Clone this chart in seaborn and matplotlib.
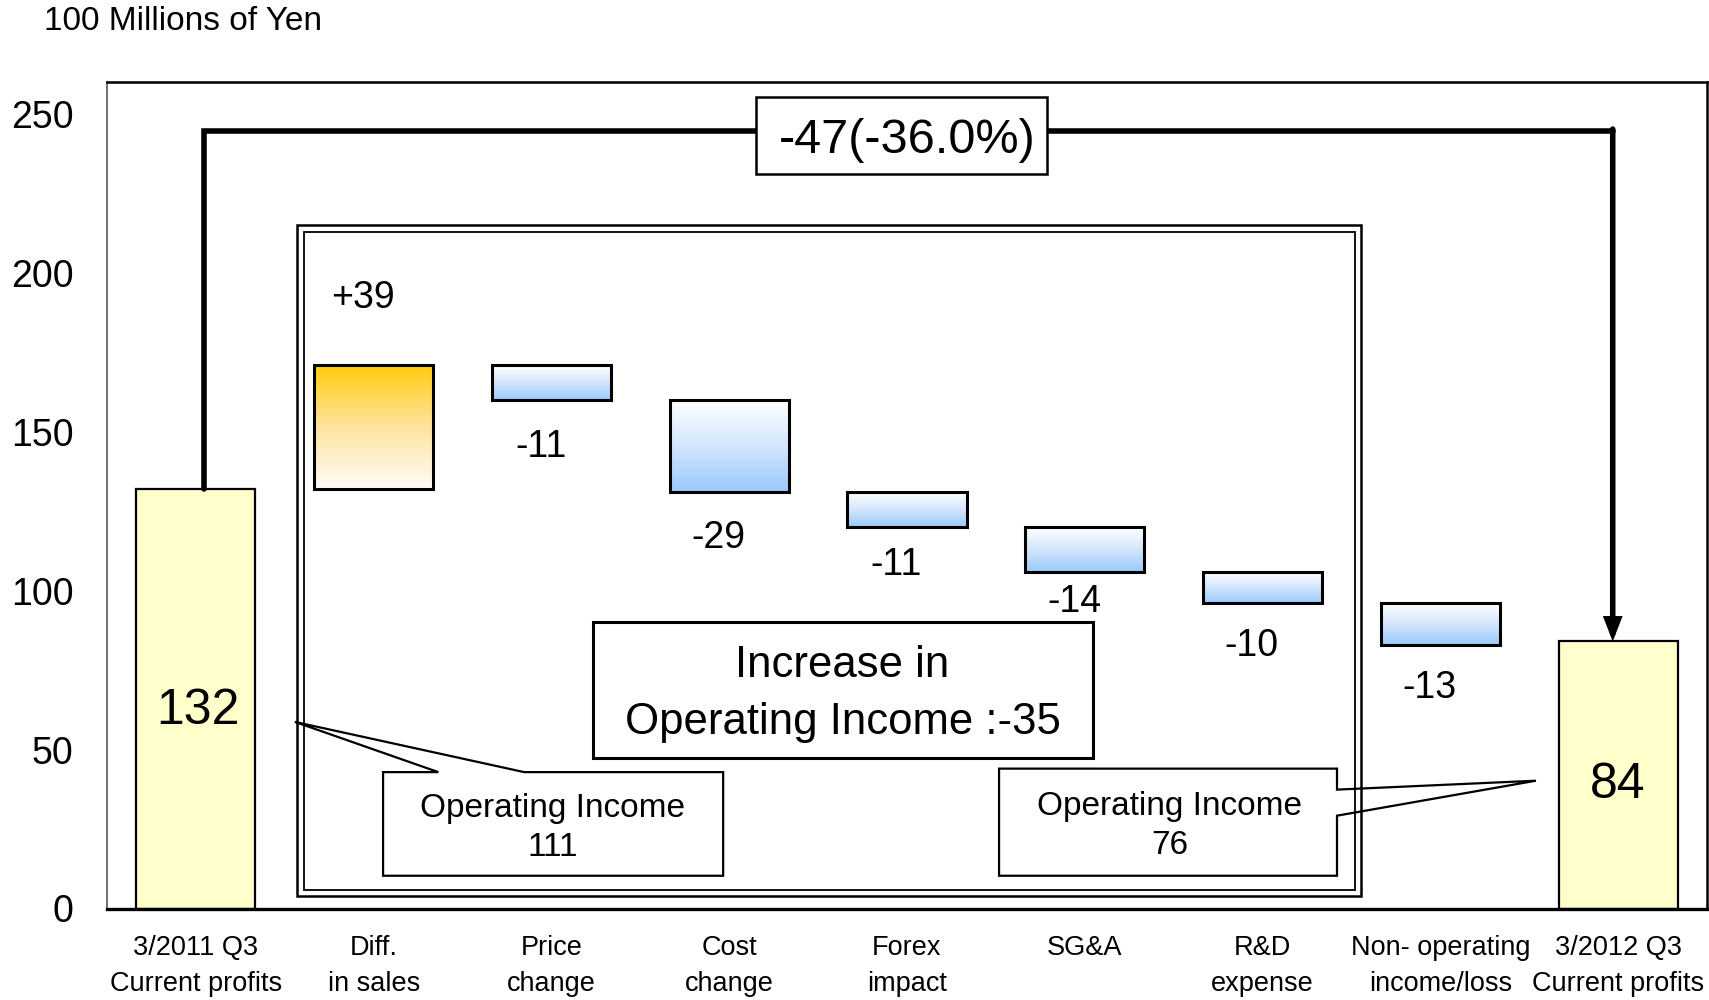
import numpy as np
import pandas as pd
import matplotlib
matplotlib.use("Agg")
import matplotlib.pyplot as plt
from matplotlib.colors import LinearSegmentedColormap
from matplotlib.patches import Rectangle, Polygon
import seaborn as sns

# ---- data -------------------------------------------------------------
categories = [
    "3/2011 Q3\nCurrent profits", "Diff.\nin sales", "Price\nchange",
    "Cost\nchange", "Forex\nimpact", "SG&A", "R&D\nexpense",
    "Non- operating\nincome/loss", "3/2012 Q3\nCurrent profits",
]
start_profit = 132
end_profit = 84
deltas = [39, -11, -29, -11, -14, -10, -13]
yticks = [0, 50, 100, 150, 200, 250]
op_income_before = 111
op_income_after = 76
unit_label = "100 Millions of Yen"
change_label = "-47(-36.0%)"
op_change_label = "Increase in\nOperating Income :-35"

# ---- waterfall geometry from the data ---------------------------------
levels_after = start_profit + np.cumsum(deltas)
levels_before = np.concatenate([[start_profit], levels_after[:-1]])
heights = [start_profit] + [abs(d) for d in deltas] + [end_profit]
bottoms = [0] + list(np.minimum(levels_before, levels_after)) + [0]
kinds = ["total"] + ["up" if d > 0 else "down" for d in deltas] + ["total"]
df = pd.DataFrame({"category": categories, "height": heights,
                   "bottom": bottoms, "kind": kinds})

# ---- style ------------------------------------------------------------
sns.set_theme(style="white")
plt.rcParams["font.family"] = ["Liberation Sans", "DejaVu Sans"]
plt.rcParams.update({"text.color": "black", "axes.labelcolor": "black",
                     "xtick.color": "black", "ytick.color": "black"})

fig = plt.figure(figsize=(17.09, 10.0), dpi=100)
ax = fig.add_axes([0.0626, 0.0915, 0.9362, 0.8265])

sns.barplot(data=df, x="category", y="height", order=categories,
            bottom=df["bottom"].to_numpy(dtype=float), width=0.67,
            color="white", saturation=1, edgecolor="black", linewidth=2.2,
            errorbar=None, ax=ax, zorder=2)

gold = LinearSegmentedColormap.from_list(
    "gold", [(0.0, "#FFFCF6"), (0.5, "#FFE3A0"), (1.0, "#FFCC0E")])
blue = LinearSegmentedColormap.from_list(
    "blue", [(0.0, "#99C9FB"), (0.5, "#D4E6FD"), (1.0, "#FFFFFF")])
grad = np.linspace(0, 1, 256).reshape(-1, 1)

for patch, kind in zip(ax.patches, df["kind"]):
    if kind == "total":
        patch.set_facecolor("#FFFFCC")
        patch.set_linewidth(1.6)
        continue
    patch.set_facecolor("none")
    x0, y0 = patch.get_x(), patch.get_y()
    x1, y1 = x0 + patch.get_width(), y0 + patch.get_height()
    im = ax.imshow(grad, cmap=gold if kind == "up" else blue, origin="lower",
                   extent=(x0, x1, y0, y1), aspect="auto", zorder=1.9,
                   interpolation="bicubic")
    im.set_clip_path(patch)

ax.set_xlim(-0.5, len(categories) - 0.5)
ax.set_ylim(0, 260)
ax.set_aspect("auto")
ax.set_xlabel("")
ax.set_ylabel("")
ax.set_yticks(yticks)
ax.set_xticks(range(len(categories)))
ax.set_xticklabels(categories, fontsize=19.5, linespacing=1.5)
ax.set_xticks(np.arange(0.5, len(categories) - 1, 1.0), minor=True)
ax.tick_params(axis="x", which="major", length=0, pad=19, labelcolor="black")
ax.tick_params(axis="x", which="minor", direction="in", length=6.5,
               width=1.0, color="#808080")
ax.tick_params(axis="y", direction="in", length=8.5, width=1.0,
               color="#808080", labelsize=27, pad=24, labelcolor="black")

for side in ["top", "right", "bottom"]:
    ax.spines[side].set_visible(True)
    ax.spines[side].set_color("black")
ax.spines["left"].set_color("#707070")
ax.spines["left"].set_linewidth(1.4)
ax.spines["bottom"].set_linewidth(2.4)
ax.spines["top"].set_linewidth(1.8)
ax.spines["right"].set_linewidth(1.8)

fig.text(0.026, 0.978, unit_label, fontsize=24, ha="left", va="center")

# ---- double frame around the operating items --------------------------
ax.add_patch(Rectangle((0.570, 3.8), 5.984, 211.2, fill=False,
                       lw=1.8, ec="black", zorder=1.2))
ax.add_patch(Rectangle((0.607, 5.8), 5.911, 207.1, fill=False,
                       lw=1.3, ec="black", zorder=1.2))

# ---- value labels -----------------------------------------------------
ax.text(0.013, 62.2, f"{start_profit}", fontsize=36, ha="center", va="center", zorder=4)
ax.text(len(categories) - 1, 39.0, f"{end_profit}", fontsize=36,
        ha="center", va="center", zorder=4)

label_offsets = [48, 34, 33, 27, 22, 31, 31]
for i, d in enumerate(deltas):
    xpos = i + 1
    if d > 0:
        ypos, off = levels_after[i], label_offsets[i]
        txt = f"+{d}"
    else:
        ypos, off = levels_after[i], -label_offsets[i]
        txt = f"{d}"
    ax.annotate(txt, xy=(xpos - 0.06, ypos), xytext=(0, off),
                textcoords="offset points", ha="center", va="center",
                fontsize=27, zorder=4)

# ---- overall change connector -----------------------------------------
x_left, x_right, y_top = 0.044, 7.97, 244.5
ax.plot([x_left, x_left, x_right], [start_profit, y_top, y_top],
        color="black", lw=4.0, solid_joinstyle="miter", zorder=3)
ax.annotate("", xy=(x_right, end_profit), xytext=(x_right, y_top + 0.7),
            arrowprops=dict(arrowstyle="-|>,head_length=0.9,head_width=0.35",
                            color="black", lw=4.0, shrinkA=0, shrinkB=0,
                            joinstyle="miter"),
            zorder=3)
ax.add_patch(Rectangle((3.15, 231.1), 1.64, 24.1, fc="white", ec="black",
                       lw=1.8, zorder=3.5))
ax.text(4.0, 241.6, change_label, fontsize=35, ha="center", va="center", zorder=4)

# ---- operating income change box --------------------------------------
ax.add_patch(Rectangle((2.232, 47.4), 2.812, 42.6, fc="white", ec="black",
                       lw=2.2, zorder=3.5))
ax.text(3.638, 67.4, op_change_label, fontsize=31.5, ha="center", va="center",
        multialignment="center", linespacing=1.5, zorder=4)

# ---- callouts -----------------------------------------------------------
left_callout = [(1.053, 42.9), (1.364, 42.9), (0.557, 58.7), (1.847, 42.9),
                (2.966, 42.9), (2.966, 10.3), (1.053, 10.3)]
right_callout = [(4.518, 44.0), (6.419, 44.0), (6.419, 37.4), (7.538, 40.2),
                 (6.419, 29.2), (6.419, 10.3), (4.518, 10.3)]
for verts in (left_callout, right_callout):
    ax.add_patch(Polygon(verts, closed=True, fc="white", ec="black",
                         lw=1.6, zorder=1.1))
ax.text(2.006, 25.4, f"Operating Income\n{op_income_before}", fontsize=24,
        ha="center", va="center", multialignment="center", linespacing=1.35,
        zorder=4)
ax.text(5.478, 25.9, f"Operating Income\n{op_income_after}", fontsize=24,
        ha="center", va="center", multialignment="center", linespacing=1.35,
        zorder=4)

fig.savefig("out.png", dpi=100)
